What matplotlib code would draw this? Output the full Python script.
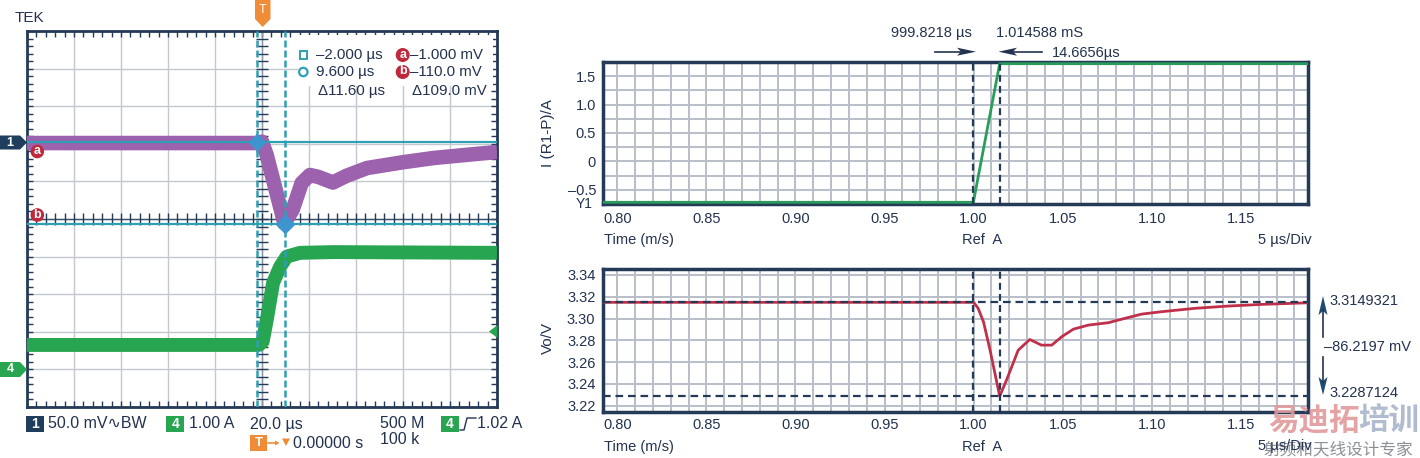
import matplotlib
matplotlib.use("Agg")
import matplotlib.pyplot as plt
import numpy as np
from matplotlib.patches import Polygon, Rectangle, Circle

plt.rcParams['font.family'] = ['Liberation Sans', 'DejaVu Sans']
plt.rcParams['lines.scale_dashes'] = False

NAVY = '#22324f'
FRAME = '#243a56'
GRID_S = '#c3c8cf'
GRID_R = '#b8bfc8'
CYAN = '#2f9fb4'
PURPLE = '#9d62ad'
GREEN_S = '#27a550'
GREEN_R = '#2a9d5c'
RED = '#c1304b'
ORANGE = '#f08c38'
MARK_RED = '#c0283c'

# ---------------- data ----------------
# Scope capture: time in µs (20 µs/div), CH1 in mV (50 mV/div), CH4 in A (1 A/div)
ch1_t = [-100, -2, 0, 2, 9.5, 13, 16.9, 20.4, 24, 30.2, 36, 44.7, 60, 73, 86, 100]
ch1_mV = [-2.5, -2.5, -0.7, -18.5, -109, -91.5, -55.6, -45, -47.6, -55, -46, -35.7, -28, -22.4, -18.5, -14.4]
ch4_t = [-100, -1.3, 0.3, 2.0, 4.7, 7.7, 10.5, 16.2, 30, 100]
ch4_A = [0.65, 0.65, 0.74, 1.31, 2.30, 2.73, 3.00, 3.10, 3.12, 3.10]
cursor_t = [-2.0, 9.6]        # µs
cursor_mV = [-1.0, -110.0]    # mV
ch1_offset_div = 2.07
ch4_offset_div = -4.0
trig_level_A = 1.02

readout_rows = [("–2.000 µs", "–1.000 mV"), ("9.600 µs", "–110.0 mV"), ("Δ11.60 µs", "Δ109.0 mV")]

# Simulation: time in ms
sim_I_t = [0.792, 0.9998218, 1.014588, 1.1876]
sim_I = [-0.72, -0.72, 1.72, 1.72]
sim_V_t = [0.792, 1.000, 1.0025, 1.0055, 1.0092, 1.0146, 1.0184, 1.025, 1.0315, 1.038, 1.0438,
           1.0494, 1.056, 1.0644, 1.0756, 1.0849, 1.0943, 1.1055, 1.1242, 1.143, 1.1617, 1.188]
sim_V = [3.3149, 3.3149, 3.3094, 3.297, 3.271, 3.2287, 3.2434, 3.271, 3.2808, 3.2756, 3.2756,
         3.2833, 3.2903, 3.294, 3.2962, 3.3002, 3.3041, 3.3063, 3.3094, 3.3115, 3.313, 3.3145]
meas_t = [0.9998218, 1.014588]
meas_V = [3.3149321, 3.2287124]
x_ticks = [0.80, 0.85, 0.90, 0.95, 1.00, 1.05, 1.10, 1.15]
x_labels = ["0.80", "0.85", "0.90", "0.95", "1.00", "1.05", "1.10", "1.15"]
i_ticks = [-0.5, 0, 0.5, 1.0, 1.5]
i_labels = ["–0.5", "0", "0.5", "1.0", "1.5"]
v_ticks = [3.22, 3.24, 3.26, 3.28, 3.30, 3.32, 3.34]
v_labels = ["3.22", "3.24", "3.26", "3.28", "3.30", "3.32", "3.34"]

W, H = 1420, 458
fig = plt.figure(figsize=(W / 100, H / 100), dpi=100)
fig.patch.set_facecolor('white')


def ax_px(x0, y0, x1, y1):
    return fig.add_axes([x0 / W, 1 - y1 / H, (x1 - x0) / W, (y1 - y0) / H])


# ---------------- scope ----------------
sa = ax_px(27, 31, 497, 407)
sa.set_xlim(-100, 100)
sa.set_ylim(-5, 5)
sa.set_xticks(np.arange(-100, 101, 20))
sa.set_yticks(np.arange(-5, 6, 1))
sa.set_xticks(np.arange(-100, 101, 4), minor=True)
sa.set_yticks(np.arange(-5, 5.01, 0.2), minor=True)
sa.grid(True, which='major', color=GRID_S, lw=1)
sa.tick_params(which='both', direction='in', top=True, right=True, labelbottom=False,
               labelleft=False, length=4, width=1, color=FRAME)
for s in sa.spines.values():
    s.set_color(FRAME)
    s.set_linewidth(2)
sa.set_axisbelow(True)
# crosshair
sa.axhline(0, color='#3a4f6a', lw=1, zorder=1)
sa.axvline(0, color='#8a95a3', lw=1, zorder=1)
ys = np.arange(-5, 5.01, 0.2)
xs = np.arange(-100, 101, 4)
sa.plot(np.zeros_like(ys), ys, ls='none', marker='_', ms=8, mew=1, color=FRAME, zorder=1)
sa.plot(xs, np.zeros_like(xs), ls='none', marker='|', ms=8, mew=1, color=FRAME, zorder=1)
# white readout box
sa.add_patch(Rectangle((15.5, 3.55), 83, 1.35, facecolor='white', edgecolor='none', zorder=1.5))

c1 = ch1_offset_div + np.array(ch1_mV) / 50.0
c4 = ch4_offset_div + np.array(ch4_A)
sa.plot(ch4_t, c4, color=GREEN_S, lw=10, solid_joinstyle='round', solid_capstyle='butt', zorder=3)
sa.plot(ch1_t, c1, color=PURPLE, lw=10.5, solid_joinstyle='round', solid_capstyle='butt', zorder=3)
for v in cursor_mV:
    sa.axhline(ch1_offset_div + v / 50.0, color=CYAN, lw=1.6, zorder=4)
for t in cursor_t:
    sa.axvline(t, color=CYAN, lw=1.8, dashes=(5, 2.2), zorder=4)
sa.plot([cursor_t[0]], [ch1_offset_div + cursor_mV[0] / 50.0], marker='D', ms=8, color='#3d95cf', zorder=5)
sa.plot([cursor_t[1]], [ch1_offset_div + cursor_mV[1] / 50.0], marker='D', ms=9, color='#3d95cf', zorder=5)

# ---------------- simulation: current ----------------
ta = ax_px(603, 62, 1308, 204)
ta.set_xlim(0.792, 1.1876)
ta.set_ylim(-0.75, 1.75)
ta.set_xticks(x_ticks)
ta.set_xticklabels(x_labels)
ta.set_xticks(np.arange(0.80, 1.185, 0.01), minor=True)
ta.set_yticks(i_ticks)
ta.set_yticklabels(i_labels)
ta.set_yticks([-0.25, 0.25, 0.75, 1.25], minor=True)

# ---------------- simulation: voltage ----------------
ba = ax_px(603, 269, 1308, 412)
ba.set_xlim(0.792, 1.1876)
ba.set_ylim(3.2142, 3.3455)
ba.set_xticks(x_ticks)
ba.set_xticklabels(x_labels)
ba.set_xticks(np.arange(0.80, 1.185, 0.01), minor=True)
ba.set_yticks(v_ticks)
ba.set_yticklabels(v_labels)

for a, xpad, ypad in ((ta, 6.0, 5.0), (ba, 4.2, 5.5)):
    a.grid(True, which='both', color=GRID_R, lw=1.4)
    a.set_axisbelow(True)
    a.tick_params(which='both', length=0, labelsize=10.5, labelcolor=NAVY)
    a.tick_params(axis='x', pad=xpad)
    a.tick_params(axis='y', pad=ypad)
    for s in a.spines.values():
        s.set_color(FRAME)
        s.set_linewidth(2.5)
    for t in meas_t:
        a.axvline(t, color=FRAME, lw=1.6, dashes=(5, 3), zorder=4)

ta.plot(sim_I_t, sim_I, color=GREEN_R, lw=2, zorder=3)
for v in meas_V:
    ba.axhline(v, color=FRAME, lw=1.6, dashes=(5.5, 3.5), zorder=4)
ba.plot(sim_V_t, sim_V, color=RED, lw=2, zorder=3)

# ---------------- overlay (pixel coordinates) ----------------
ov = fig.add_axes([0, 0, 1, 1], zorder=10)
ov.set_xlim(0, W)
ov.set_ylim(H, 0)
ov.axis('off')
ov.patch.set_alpha(0)


def T(x, y, s, size=10.5, color=NAVY, ha='left', va='center', **kw):
    ov.text(x, y, s, fontsize=size, color=color, ha=ha, va=va, **kw)


T(15, 18, "TEK", size=11)
# trigger marker
ov.add_patch(Polygon([(255, 0), (270.5, 0), (270.5, 19), (262.7, 27), (255, 19)], closed=True,
                     facecolor=ORANGE, edgecolor='none'))
T(262.7, 10, "T", size=9, color='white', ha='center')
# channel tags
ov.add_patch(Polygon([(0, 135.5), (20, 135.5), (27, 142.5), (20, 149.5), (0, 149.5)], closed=True,
                     facecolor='#1f3d5c', edgecolor='none'))
T(10, 142.5, "1", size=9, color='white', ha='center', weight='bold')
ov.add_patch(Polygon([(0, 362), (20, 362), (27, 369.5), (20, 377), (0, 377)], closed=True,
                     facecolor=GREEN_S, edgecolor='none'))
T(10, 369.5, "4", size=9, color='white', ha='center', weight='bold')
for yy, ch in ((151.5, 'a'), (215, 'b')):
    ov.add_patch(Circle((37.3, yy), 6.8, facecolor=MARK_RED, edgecolor='none'))
    T(37.3, yy - 0.5, ch, size=9, color='white', ha='center', weight='bold')
ov.add_patch(Polygon([(497.5, 325), (489, 331.5), (497.5, 338)], closed=True,
                     facecolor=GREEN_S, edgecolor='none'))
# cursor readouts
ov.add_patch(Rectangle((299.5, 51), 7.5, 7.5, facecolor='none', edgecolor=CYAN, lw=1.4))
ov.add_patch(Circle((303.3, 72), 4.2, facecolor='none', edgecolor=CYAN, lw=1.6))
for yy, ch in ((55, 'a'), (72, 'b')):
    ov.add_patch(Circle((402.7, yy), 7.0, facecolor=MARK_RED, edgecolor='none'))
    T(402.7, yy - 0.5, ch, size=9, color='white', ha='center', weight='bold')
for (lt, rt), yy, xl, xr in zip(readout_rows, (55, 72, 91), (316, 316, 318), (410, 410, 411.5)):
    T(xl, yy, lt, size=10.8)
    T(xr, yy, rt, size=10.8)
# scope bottom labels
ov.add_patch(Rectangle((26, 416), 18.3, 16, facecolor='#1f3d5c', edgecolor='none'))
T(35.2, 424, "1", size=10, color='white', ha='center', weight='bold')
T(48, 424, "50.0 mV∿BW", size=11.5)
ov.add_patch(Rectangle((166, 416), 18.3, 16, facecolor=GREEN_S, edgecolor='none'))
T(175.2, 424, "4", size=10, color='white', ha='center', weight='bold')
T(189, 424, "1.00 A", size=11.5)
T(250, 424, "20.0 µs", size=11.5)
T(380, 424, "500 M", size=11.5)
ov.add_patch(Rectangle((440.7, 416), 18.6, 16, facecolor=GREEN_S, edgecolor='none'))
T(450, 424, "4", size=10, color='white', ha='center', weight='bold')
ov.plot([460, 464, 467, 476], [430, 430, 418, 418], color=NAVY, lw=1)
T(477, 424, "1.02 A", size=11.5)
ov.add_patch(Rectangle((250, 435), 16.7, 16, facecolor=ORANGE, edgecolor='none'))
T(258.4, 443, "T", size=9.5, color='white', ha='center', weight='bold')
ov.plot([268, 277], [443, 443], color=ORANGE, lw=1.2)
ov.add_patch(Polygon([(275, 440.5), (279.5, 443), (275, 445.5)], closed=True, facecolor=ORANGE, edgecolor='none'))
ov.add_patch(Polygon([(282, 438.5), (290, 438.5), (286, 446)], closed=True, facecolor=ORANGE, edgecolor='none'))
T(293, 443, "0.00000 s", size=11.5)
T(380, 439, "100 k", size=11.5)

# simulation labels
T(548, 133, "I (R1-P)/A", size=11, rotation=90, ha='center')
T(548, 338, "Vo/V", size=11, rotation=90, ha='center')
T(593, 204, "Y1", size=10, ha='right')
for yy in (240, 447):
    T(604, yy, "Time (m/s)", size=10.5)
    T(962, yy, "Ref  A", size=10.5)

# watermark
T(1268, 421, "易迪拓", size=22, color='#e29a9c', family=['Noto Sans CJK SC'], weight='bold', alpha=0.9)
T(1358, 421, "培训", size=22, color='#a9b5cb', family=['Noto Sans CJK SC'], weight='bold', alpha=0.9)
T(1264, 450, "射频和天线设计专家", size=12, color='#8c9097', family=['Noto Sans CJK SC'])
for yy in (240, 446):
    T(1258, yy, "5 µs/Div", size=10.5)

# top annotations
T(972, 33, "999.8218 µs", size=10.5, ha='right')
T(996.5, 33, "1.014588 mS", size=10.5)
T(1051.5, 52.5, "14.6656µs", size=10.5)
ov.plot([935, 962], [51.7, 51.7], color=NAVY, lw=1.2)
ov.add_patch(Polygon([(957, 47.7), (976, 51.7), (957, 55.7), (961, 51.7)], closed=True,
                     facecolor=NAVY, edgecolor='none'))
ov.plot([1012, 1041.7], [51.7, 51.7], color=NAVY, lw=1.2)
ov.add_patch(Polygon([(1017, 47.7), (998.5, 51.7), (1017, 55.7), (1013, 51.7)], closed=True,
                     facecolor=NAVY, edgecolor='none'))
# right annotations
ov.plot([1323, 1323], [310, 337], color=NAVY, lw=1.2)
ov.add_patch(Polygon([(1318.5, 315), (1323, 296), (1327.5, 315), (1323, 311)], closed=True,
                     facecolor='#1f4a72', edgecolor='none'))
ov.plot([1323, 1323], [357, 382], color=NAVY, lw=1.2)
ov.add_patch(Polygon([(1318.5, 377), (1323, 395), (1327.5, 377), (1323, 381)], closed=True,
                     facecolor='#1f4a72', edgecolor='none'))
T(1329, 301, "3.3149321", size=10.5)
T(1324, 347, "–86.2197 mV", size=10.5)
T(1329, 393, "3.2287124", size=10.5)

fig.savefig("out.png", dpi=100, facecolor='white')
